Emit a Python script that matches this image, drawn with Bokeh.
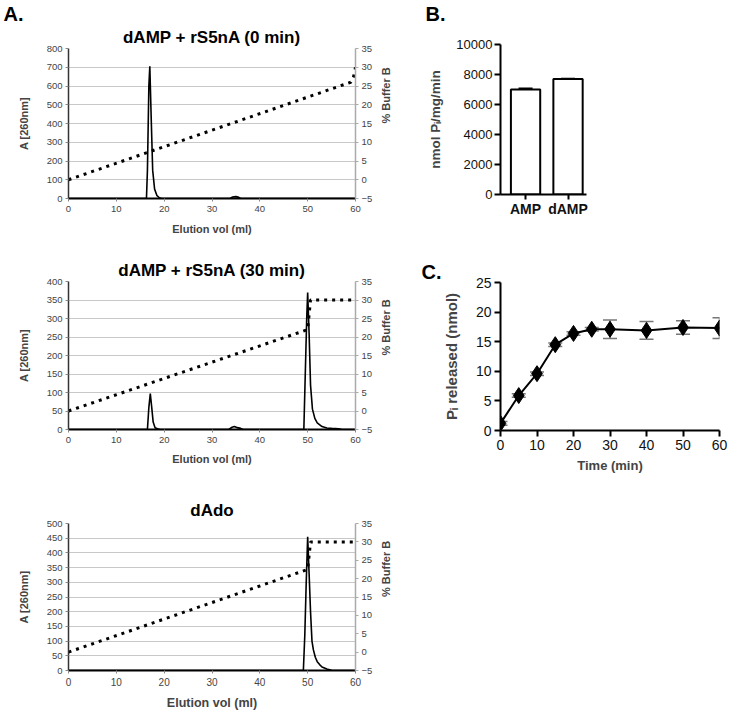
import math
from bokeh.plotting import figure
from bokeh.models import Range1d, LinearAxis, Whisker, ColumnDataSource, FixedTicker, Title
from bokeh.layouts import row, column
from bokeh.embed import file_html
from bokeh.resources import INLINE

FONT = "Liberation Sans"

# ---------------- Panel A data ----------------
a1_title = "dAMP + rS5nA (0 min)"
a1_vol = [0, 16.3, 16.5, 16.8, 17.0, 17.3, 17.6, 18.0, 18.5, 19.0, 19.5, 33.8, 34.3, 35.0, 35.6, 36.0, 60]
a1_abs = [0, 0, 150, 600, 705, 420, 150, 50, 15, 4, 0, 0, 8, 10, 6, 0, 0]
a1_grad_vol = [0, 59, 59.6, 60]
a1_grad_pct = [0, 26, 27.5, 30]
a1_yticks = [0, 100, 200, 300, 400, 500, 600, 700, 800]

a2_title = "dAMP + rS5nA (30 min)"
a2_vol = [0, 16.5, 16.8, 17.1, 17.4, 17.7, 18.1, 18.6, 19.2, 33.5, 34.2, 34.7, 35.3, 36.0, 36.5,
          49.2, 49.5, 49.8, 50.0, 50.3, 50.6, 51.0, 51.5, 52.0, 53.0, 54.0, 55.0, 56.5, 57.2, 60]
a2_abs = [0, 0, 60, 97, 60, 20, 5, 2, 0, 0, 6, 8, 5, 3, 0,
          0, 150, 300, 370, 260, 120, 55, 30, 18, 8, 4, 3, 2, 0, 0]
a2_grad_vol = [0, 50, 50.6, 59.5]
a2_grad_pct = [0, 22, 30, 30]
a2_yticks = [0, 50, 100, 150, 200, 250, 300, 350, 400]

a3_title = "dAdo"
a3_vol = [0, 49.1, 49.4, 49.7, 50.0, 50.3, 50.6, 50.9, 51.2, 51.6, 52.0, 52.5, 53.0, 54.0, 55.0, 55.5, 60]
a3_abs = [0, 0, 120, 300, 455, 330, 200, 100, 70, 45, 30, 20, 12, 5, 1, 0, 0]
a3_grad_vol = [0, 50, 50.6, 59.5]
a3_grad_pct = [0, 22.5, 30, 30]
a3_yticks = [0, 50, 100, 150, 200, 250, 300, 350, 400, 450, 500]

x_ticks_a = [0, 10, 20, 30, 40, 50, 60]
pct_ticks = [-5, 0, 5, 10, 15, 20, 25, 30, 35]

# ---------------- Panel B data ----------------
b_cats = ["AMP", "dAMP"]
b_vals = [7000, 7700]
b_err = [80, 30]
b_yticks = [0, 2000, 4000, 6000, 8000, 10000]

# ---------------- Panel C data ----------------
c_time = [0, 5, 10, 15, 20, 25, 30, 40, 50, 60]
c_pi = [1.2, 5.9, 9.6, 14.5, 16.4, 17.1, 17.1, 16.9, 17.4, 17.3]
c_err = [0.3, 0.3, 0.3, 0.3, 0.3, 0.3, 1.55, 1.5, 1.15, 1.75]
c_xticks = [0, 10, 20, 30, 40, 50, 60]
c_yticks = [0, 5, 10, 15, 20, 25]


def letter_title(text, offset, standoff):
    return Title(text=text, align="left", offset=offset, standoff=standoff,
                 text_font=FONT, text_font_size="20px", text_font_style="bold",
                 text_color="black")


def chrom_panel(title, vol, absb, gvol, gpct, yticks, fh, top, bottom,
                title_standoff, xlabel_size, xlabel_standoff, xtick_size, letter=None):
    p = figure(frame_width=287, frame_height=fh, min_border_left=68, min_border_right=48,
               min_border_top=top, min_border_bottom=bottom, title=None,
               x_range=Range1d(0, 60), y_range=Range1d(0, yticks[-1]),
               output_backend="svg", toolbar_location=None)
    p.outline_line_color = None
    p.background_fill_color = "white"
    p.border_fill_color = "white"
    p.add_layout(Title(text=title, align="center", offset=-12, standoff=title_standoff,
                       text_font=FONT, text_font_size="17px", text_font_style="bold",
                       text_color="black"), "above")
    if letter is not None:
        p.add_layout(letter_title(letter, -65, 0), "above")

    p.extra_y_ranges = {"pct": Range1d(-5, 35)}

    p.xgrid.visible = False
    p.ygrid.grid_line_color = "#c8c8c8"
    p.ygrid.grid_line_width = 1
    p.ygrid.ticker = FixedTicker(ticks=yticks)

    # left axis
    ya = p.yaxis[0]
    ya.ticker = FixedTicker(ticks=yticks)
    ya.axis_label = "A [260nm]"
    ya.axis_label_text_font = FONT
    ya.axis_label_text_font_size = "11px"
    ya.axis_label_text_font_style = "bold"
    ya.axis_label_standoff = 14
    ya.major_label_text_font = FONT
    ya.major_label_text_font_size = "9.5px"
    ya.major_label_text_color = "#444444"
    ya.axis_line_color = "#333333"
    ya.axis_line_width = 1.5
    ya.major_tick_line_color = "#888888"
    ya.major_tick_out = 3
    ya.major_tick_in = 0
    ya.minor_tick_line_color = None
    ya.major_label_standoff = 3

    # bottom axis
    xa = p.xaxis[0]
    xa.ticker = FixedTicker(ticks=x_ticks_a)
    xa.axis_label = "Elution vol (ml)"
    xa.axis_label_text_font = FONT
    xa.axis_label_text_font_size = xlabel_size
    xa.axis_label_text_font_style = "bold"
    xa.axis_label_standoff = xlabel_standoff
    xa.major_label_text_font = FONT
    xa.major_label_text_font_size = xtick_size
    xa.major_label_text_color = "#444444"
    xa.axis_line_color = "black"
    xa.axis_line_width = 2
    xa.major_tick_line_color = "#888888"
    xa.major_tick_out = 3
    xa.major_tick_in = 0
    xa.minor_tick_line_color = None
    xa.major_label_standoff = 4

    # right axis
    ra = LinearAxis(y_range_name="pct", ticker=FixedTicker(ticks=pct_ticks), axis_label="% Buffer B")
    ra.axis_label_text_font = FONT
    ra.axis_label_text_font_size = "11px"
    ra.axis_label_text_font_style = "bold"
    ra.axis_label_orientation = math.pi / 2
    ra.axis_label_standoff = 11
    ra.major_label_text_font = FONT
    ra.major_label_text_font_size = "9.5px"
    ra.major_label_text_color = "#444444"
    ra.axis_line_color = "#aaaaaa"
    ra.axis_line_width = 1.5
    ra.major_tick_line_color = "#aaaaaa"
    ra.major_tick_out = 3
    ra.major_tick_in = 0
    ra.minor_tick_line_color = None
    ra.major_label_standoff = 3
    p.add_layout(ra, "right")

    p.line(gvol, gpct, y_range_name="pct", line_color="black", line_width=3,
           line_dash="3 5", line_cap="butt")
    p.line(vol, absb, line_color="black", line_width=1.6)
    return p


pA1 = chrom_panel(a1_title, a1_vol, a1_abs, a1_grad_vol, a1_grad_pct, a1_yticks,
                  fh=150, top=44, bottom=44, title_standoff=3, xlabel_size="11px",
                  xlabel_standoff=8, xtick_size="9.5px", letter="A.")
pA2 = chrom_panel(a2_title, a2_vol, a2_abs, a2_grad_vol, a2_grad_pct, a2_yticks,
                  fh=148, top=39, bottom=42, title_standoff=3, xlabel_size="11px",
                  xlabel_standoff=7, xtick_size="9.5px")
pA3 = chrom_panel(a3_title, a3_vol, a3_abs, a3_grad_vol, a3_grad_pct, a3_yticks,
                  fh=147, top=52, bottom=39, title_standoff=7, xlabel_size="12.5px",
                  xlabel_standoff=7, xtick_size="10px")

# ---------------- Panel B ----------------
b_pos = list(range(len(b_cats)))
b_upper = [v + e for v, e in zip(b_vals, b_err)]
b_lower = [v - e for v, e in zip(b_vals, b_err)]
b_src = ColumnDataSource(dict(x=b_pos, top=b_vals, upper=b_upper, lower=b_lower))
pB = figure(frame_width=86, frame_height=150, min_border_left=93, min_border_right=150,
            min_border_top=44, min_border_bottom=48, title=None,
            x_range=Range1d(-0.59, 1.435), y_range=Range1d(0, 10000),
            output_backend="svg", toolbar_location=None)
pB.outline_line_color = None
pB.grid.visible = False
# empty spacer title (nearest the frame) lifts the panel letter upward
pB.add_layout(Title(text=" ", text_font_size="1px", standoff=17), "above")
pB.add_layout(letter_title("B.", -75, 0), "above")
pB.vbar(x="x", top="top", width=0.69, source=b_src, fill_color="white",
        line_color="black", line_width=2)
wB = Whisker(source=b_src, base="x", upper="upper", lower="lower",
             line_color="black", line_width=1.5)
wB.upper_head.size = 14
wB.lower_head.size = 14
wB.upper_head.line_width = 1.5
wB.lower_head.line_width = 1.5
pB.add_layout(wB)

for ax in (pB.xaxis[0], pB.yaxis[0]):
    ax.axis_line_color = "black"
    ax.axis_line_width = 2
    ax.major_tick_line_color = "black"
    ax.major_tick_line_width = 2
    ax.major_tick_out = 6
    ax.major_tick_in = 0
    ax.minor_tick_line_color = None
    ax.major_label_text_font = FONT
    ax.major_label_text_color = "#111111"
    ax.major_label_standoff = 2
    ax.axis_label_text_font = FONT
    ax.axis_label_text_font_style = "bold"
pB.yaxis[0].ticker = FixedTicker(ticks=b_yticks)
pB.yaxis[0].major_label_text_font_size = "13px"
pB.yaxis[0].axis_label = "nmol P\u1d62/mg/min"
pB.yaxis[0].axis_label_text_font_size = "13.5px"
pB.yaxis[0].axis_label_standoff = 10
pB.xaxis[0].ticker = FixedTicker(ticks=b_pos)
pB.xaxis[0].major_label_overrides = {i: c for i, c in zip(b_pos, b_cats)}
pB.xaxis[0].major_label_text_font_size = "14px"
pB.xaxis[0].major_label_text_font_style = "bold"
pB.xaxis[0].major_tick_out = 5
pB.xaxis[0].major_label_standoff = 1

# ---------------- Panel C ----------------
c_upper = [v + e for v, e in zip(c_pi, c_err)]
c_lower = [v - e for v, e in zip(c_pi, c_err)]
c_src = ColumnDataSource(dict(x=c_time, y=c_pi, upper=c_upper, lower=c_lower))
pC = figure(frame_width=219, frame_height=148, min_border_left=97, min_border_right=10,
            min_border_top=40, min_border_bottom=60, title=None,
            x_range=Range1d(0, 60), y_range=Range1d(0, 25),
            output_backend="svg", toolbar_location=None)
pC.outline_line_color = None
pC.grid.visible = False
pC.add_layout(letter_title("C.", -79, 0), "above")
wC = Whisker(source=c_src, base="x", upper="upper", lower="lower",
             line_color="#777777", line_width=1.5)
wC.upper_head.size = 14
wC.lower_head.size = 14
wC.upper_head.line_color = "#777777"
wC.lower_head.line_color = "#777777"
wC.upper_head.line_width = 1.5
wC.lower_head.line_width = 1.5
pC.add_layout(wC)
pC.line("x", "y", source=c_src, line_color="black", line_width=2)
pC.scatter("x", "y", source=c_src, marker="diamond", size=16, fill_color="black",
           line_color="black")
for ax in (pC.xaxis[0], pC.yaxis[0]):
    ax.axis_line_color = "black"
    ax.axis_line_width = 2
    ax.major_tick_line_color = "black"
    ax.major_tick_line_width = 2
    ax.major_tick_out = 6
    ax.major_tick_in = 0
    ax.minor_tick_line_color = None
    ax.major_label_text_font = FONT
    ax.major_label_text_font_size = "14px"
    ax.major_label_text_color = "#111111"
    ax.major_label_standoff = 3
    ax.axis_label_text_font = FONT
    ax.axis_label_text_font_style = "bold"
    ax.axis_label_text_font_size = "13px"
pC.xaxis[0].ticker = FixedTicker(ticks=c_xticks)
pC.xaxis[0].axis_label = "Time (min)"
pC.xaxis[0].axis_label_standoff = 5
pC.yaxis[0].ticker = FixedTicker(ticks=c_yticks)
pC.yaxis[0].axis_label = "P\u1d62 released (nmol)"
pC.yaxis[0].axis_label_text_font_size = "15px"
pC.yaxis[0].axis_label_standoff = 13

layout = row(column(pA1, pA2, pA3), column(pB, pC))
open("out.html", "w").write(file_html(layout, INLINE))
